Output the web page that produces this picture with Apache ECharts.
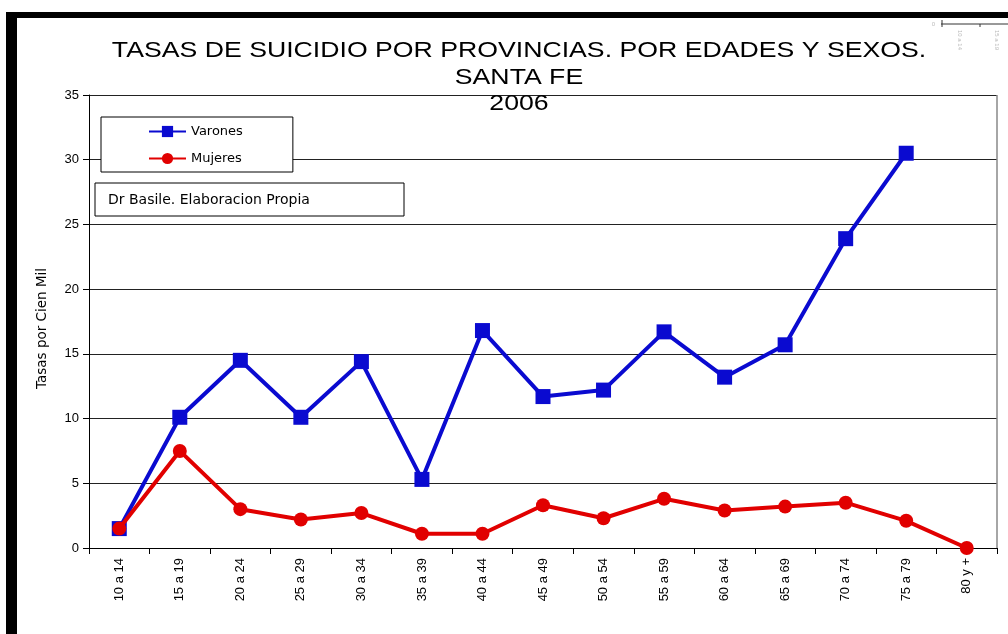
<!DOCTYPE html>
<html>
<head>
<meta charset="utf-8">
<script src="https://cdn.jsdelivr.net/npm/echarts@6/dist/echarts.min.js"></script>
<style>
html,body{margin:0;padding:0;background:#fff;}
#chart{width:1008px;height:634px;}
</style>
</head>
<body>
<div id="chart"></div>
<script>
const categories = ['10 a 14','15 a 19','20 a 24','25 a 29','30 a 34','35 a 39','40 a 44','45 a 49','50 a 54','55 a 59','60 a 64','65 a 69','70 a 74','75 a 79','80 y +'];
const varones = [1.5, 10.1, 14.5, 10.1, 14.4, 5.3, 16.8, 11.7, 12.2, 16.7, 13.2, 15.7, 23.9, 30.5, null];
const mujeres = [1.5, 7.5, 3.0, 2.2, 2.7, 1.1, 1.1, 3.3, 2.3, 3.8, 2.9, 3.2, 3.5, 2.1, 0];
const yTicks = {min: 0, max: 35, interval: 5};
const titleLines = ['TASAS DE SUICIDIO POR PROVINCIAS. POR EDADES Y SEXOS.', 'SANTA FE', '2006'];
const yAxisName = 'Tasas por Cien Mil';
const noteText = 'Dr Basile. Elaboracion Propia';

const chart = echarts.init(document.getElementById('chart'));
const FONT = 'Liberation Sans, Arial, sans-serif';
const WIDE = 'DejaVu Sans, Verdana, sans-serif';
const titleY = [51, 78, 104];
const titleGraphics = titleLines.map((t, i) => ({
  type: 'text', x: 519, y: titleY[i], scaleX: 1.24, z: 12,
  style: {text: t, fontFamily: FONT, fontSize: 21.5, fill: '#000', align: 'center', verticalAlign: 'middle'}
}));
chart.setOption({
  backgroundColor: '#fff',
  animation: false,
  legend: {
    orient: 'vertical', left: 101, top: 117,
    padding: [8, 50, 7, 47], itemGap: 14, itemWidth: 37, itemHeight: 14,
    borderColor: '#000', borderWidth: 1, backgroundColor: '#fff',
    textStyle: {fontFamily: WIDE, fontSize: 13, color: '#000'},
    data: ['Varones', 'Mujeres']
  },
  grid: {left: 89, right: 11, top: 95, bottom: 86},
  xAxis: {
    type: 'category', data: categories, boundaryGap: true,
    axisLine: {lineStyle: {color: '#000', width: 1}},
    axisTick: {show: true, length: 6, alignWithLabel: false, lineStyle: {color: '#000'}},
    axisLabel: {rotate: 90, margin: 10, fontFamily: FONT, fontSize: 13, color: '#000', interval: 0},
    splitLine: {show: false}
  },
  yAxis: {
    type: 'value', min: yTicks.min, max: yTicks.max, interval: yTicks.interval,
    name: yAxisName, nameLocation: 'middle', nameGap: 40, nameRotate: 90,
    nameTextStyle: {fontFamily: WIDE, fontSize: 13.5, color: '#000', padding: [0, 14, 0, 0]},
    axisLine: {show: true, lineStyle: {color: '#000', width: 1}},
    axisTick: {show: true, length: 6, inside: false, lineStyle: {color: '#000'}},
    axisLabel: {fontFamily: FONT, fontSize: 13, color: '#000', margin: 10},
    splitLine: {show: true, lineStyle: {color: '#222', width: 1}}
  },
  series: [
    {
      name: 'Varones', type: 'line', data: varones,
      symbol: 'rect', symbolSize: 15,
      lineStyle: {color: '#0a0ad0', width: 4},
      itemStyle: {color: '#0a0ad0'},
      z: 3
    },
    {
      name: 'Mujeres', type: 'line', data: mujeres,
      symbol: 'circle', symbolSize: 14,
      lineStyle: {color: '#e10000', width: 4},
      itemStyle: {color: '#e10000'},
      z: 4
    }
  ],
  graphic: titleGraphics.concat([
    {type: 'rect', shape: {x: 95, y: 183, width: 309, height: 33}, style: {fill: '#fff', stroke: '#000', lineWidth: 1}, z: 10},
    {type: 'text', x: 108, y: 200, style: {text: noteText, fontFamily: WIDE, fontSize: 14, fill: '#000', verticalAlign: 'middle'}, z: 11},
    {type: 'line', shape: {x1: 997, y1: 95, x2: 997, y2: 548}, style: {stroke: '#888', lineWidth: 1.5}, z: 5},
    {type: 'rect', shape: {x: 6, y: 12, width: 1002, height: 6}, style: {fill: '#000'}, z: 20},
    {type: 'rect', shape: {x: 6, y: 12, width: 11, height: 622}, style: {fill: '#000'}, z: 20},
    {type: 'line', shape: {x1: 941, y1: 24, x2: 1008, y2: 24}, style: {stroke: '#333', lineWidth: 1}, z: 20},
    {type: 'line', shape: {x1: 942, y1: 20, x2: 942, y2: 27}, style: {stroke: '#333', lineWidth: 1}, z: 20},
    {type: 'line', shape: {x1: 980, y1: 24, x2: 980, y2: 27}, style: {stroke: '#333', lineWidth: 1}, z: 20},
    {type: 'text', x: 935, y: 24, style: {text: '0', fontFamily: FONT, fontSize: 6, fill: '#bbb', verticalAlign: 'middle', align: 'right'}, z: 20},
    {type: 'text', x: 960, y: 30, rotation: -Math.PI / 2, style: {text: '10 a 14', fontFamily: FONT, fontSize: 6, fill: '#bbb', verticalAlign: 'middle'}, z: 20},
    {type: 'text', x: 997, y: 30, rotation: -Math.PI / 2, style: {text: '15 a 19', fontFamily: FONT, fontSize: 6, fill: '#bbb', verticalAlign: 'middle'}, z: 20}
  ])
});
</script>
</body>
</html>
